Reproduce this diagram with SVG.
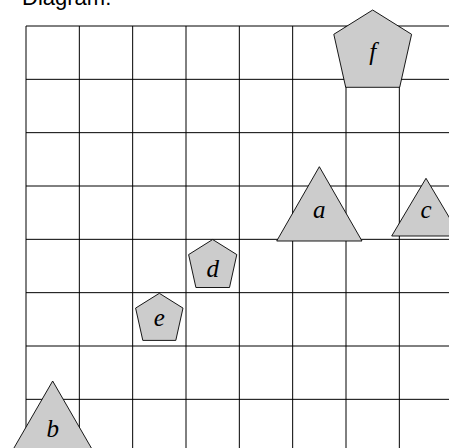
<svg xmlns="http://www.w3.org/2000/svg" width="449" height="448" viewBox="0 0 449 448">
<style>
.grid line{stroke:#000;stroke-width:1}
.shape{fill:#cccccc;stroke:#000;stroke-width:0.9;stroke-linejoin:miter}
.lbl{font-family:"Liberation Serif",serif;font-style:italic;font-size:25px;fill:#000;text-anchor:middle}
.title{font-family:"Liberation Sans",sans-serif;font-size:22px;fill:#000}
</style>
<rect width="449" height="448" fill="#fff"/>
<text class="title" x="22" y="5">Diagram:</text>
<g id="grid" class="grid">
<line x1="26" y1="26" x2="26" y2="448"/>
<line x1="79.33" y1="26" x2="79.33" y2="448"/>
<line x1="132.67" y1="26" x2="132.67" y2="448"/>
<line x1="186" y1="26" x2="186" y2="448"/>
<line x1="239.33" y1="26" x2="239.33" y2="448"/>
<line x1="292.67" y1="26" x2="292.67" y2="448"/>
<line x1="346" y1="26" x2="346" y2="448"/>
<line x1="399.33" y1="26" x2="399.33" y2="448"/>
<line x1="26" y1="26" x2="449" y2="26"/>
<line x1="26" y1="79.33" x2="449" y2="79.33"/>
<line x1="26" y1="132.67" x2="449" y2="132.67"/>
<line x1="26" y1="186" x2="449" y2="186"/>
<line x1="26" y1="239.33" x2="449" y2="239.33"/>
<line x1="26" y1="292.67" x2="449" y2="292.67"/>
<line x1="26" y1="346" x2="449" y2="346"/>
<line x1="26" y1="399.33" x2="449" y2="399.33"/>
</g>
<g id="connectors"></g>
<g id="node-f">
<polygon class="shape" points="372.67,10 411.6,34.3 399.7,87.3 345.7,87.3 333.8,34.3"/>
<text class="lbl" x="372.67" y="60">f</text>
</g>
<g id="node-a">
<polygon class="shape" points="319.33,166.7 362,241 276.7,241"/>
<text class="lbl" x="319.33" y="218.3">a</text>
</g>
<g id="node-c">
<polygon class="shape" points="426,178.3 460.3,236 391.7,236"/>
<text class="lbl" x="426" y="218.3">c</text>
</g>
<g id="node-d">
<polygon class="shape" points="212.67,239.5 236.8,254.6 229.5,287.5 195.9,287.5 188.6,254.6"/>
<text class="lbl" x="212.67" y="276.7">d</text>
</g>
<g id="node-e">
<polygon class="shape" points="159.33,293.3 183,308.1 175.8,340.4 142.8,340.4 135.6,308.1"/>
<text class="lbl" x="159.33" y="326">e</text>
</g>
<g id="node-b">
<polygon class="shape" points="52.67,381 95.4,455 9.9,455"/>
<text class="lbl" x="52.67" y="436.7">b</text>
</g>
</svg>
